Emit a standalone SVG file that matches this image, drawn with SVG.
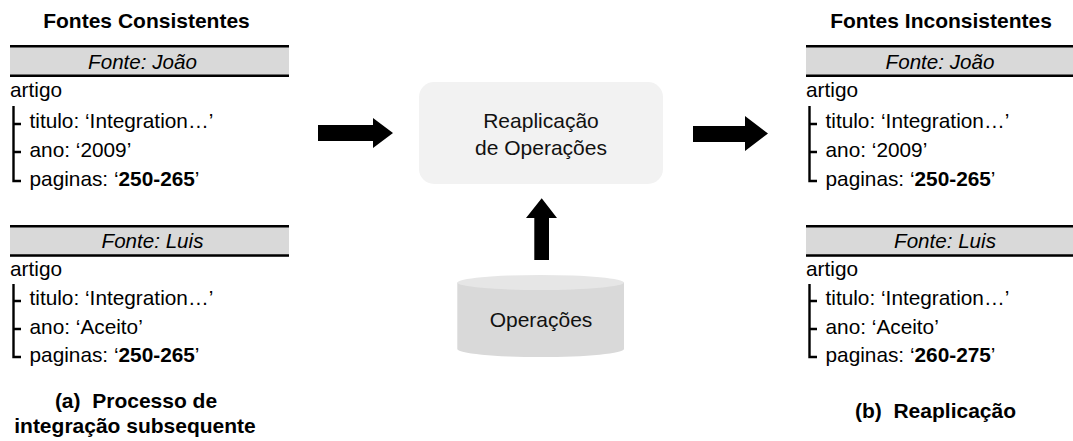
<svg xmlns="http://www.w3.org/2000/svg" width="1073" height="441" viewBox="0 0 1073 441">
  <style>
    text { font-family: "Liberation Sans", Arial, sans-serif; fill: #000; }
    .title { font-size: 21px; font-weight: bold; text-anchor: middle; }
    .caption { font-size: 21px; font-weight: bold; text-anchor: middle; white-space: pre; }
    .src { font-size: 20.6px; font-style: italic; text-anchor: middle; }
    .body { font-size: 20.8px; }
    .val { font-weight: bold; }
    .bar { fill: #d9d9d9; }
    .rule { stroke: #000; stroke-width: 2.6; fill: none; }
    .tree { stroke: #000; stroke-width: 2.4; fill: none; }
    .proc { fill: #f2f2f2; }
    .proc-text { font-size: 21px; text-anchor: middle; fill: #111; }
    .cyl-body { fill: #d9d9d9; }
    .cyl-top { fill: #e6e6e6; }
    .arrow { fill: #000; }
  </style>

  <!-- column titles -->
  <text class="title" x="146.5" y="28">Fontes Consistentes</text>
  <text class="title" x="941" y="28">Fontes Inconsistentes</text>

  <!-- left column: source João -->
  <g id="left-joao">
    <rect class="bar" x="10" y="45" width="279" height="32"/>
    <line class="rule" x1="10" y1="46.3" x2="289" y2="46.3"/>
    <line class="rule" x1="10" y1="75.7" x2="289" y2="75.7"/>
    <text class="src" x="142.5" y="68.5">Fonte: João</text>
    <text class="body" x="10" y="97">artigo</text>
    <path class="tree" d="M13.5,106 V181 H21 M13.5,124 H21 M13.5,152 H21"/>
    <text class="body" x="29.5" y="128">titulo: ‘Integration…’</text>
    <text class="body" x="29.5" y="157">ano: ‘2009’</text>
    <text class="body" x="29.5" y="186">paginas: ‘<tspan class="val">250-265</tspan>’</text>
  </g>

  <!-- left column: source Luis -->
  <g id="left-luis">
    <rect class="bar" x="10" y="225" width="279" height="32"/>
    <line class="rule" x1="10" y1="226.3" x2="289" y2="226.3"/>
    <line class="rule" x1="10" y1="255.5" x2="289" y2="255.5"/>
    <text class="src" x="152.5" y="248">Fonte: Luis</text>
    <text class="body" x="10" y="275.5">artigo</text>
    <path class="tree" d="M13.5,284 V357 H21 M13.5,301 H21 M13.5,329 H21"/>
    <text class="body" x="29.5" y="305">titulo: ‘Integration…’</text>
    <text class="body" x="29.5" y="333.5">ano: ‘Aceito’</text>
    <text class="body" x="29.5" y="362">paginas: ‘<tspan class="val">250-265</tspan>’</text>
  </g>

  <!-- right column: source João -->
  <g id="right-joao">
    <rect class="bar" x="806" y="45" width="267" height="32"/>
    <line class="rule" x1="806" y1="46.3" x2="1073" y2="46.3"/>
    <line class="rule" x1="806" y1="75.7" x2="1073" y2="75.7"/>
    <text class="src" x="940" y="68.5">Fonte: João</text>
    <text class="body" x="806" y="97">artigo</text>
    <path class="tree" d="M809.5,106 V181 H817 M809.5,124 H817 M809.5,152 H817"/>
    <text class="body" x="825.5" y="128">titulo: ‘Integration…’</text>
    <text class="body" x="825.5" y="157">ano: ‘2009’</text>
    <text class="body" x="825.5" y="186">paginas: ‘<tspan class="val">250-265</tspan>’</text>
  </g>

  <!-- right column: source Luis -->
  <g id="right-luis">
    <rect class="bar" x="806" y="225" width="267" height="32"/>
    <line class="rule" x1="806" y1="226.3" x2="1073" y2="226.3"/>
    <line class="rule" x1="806" y1="255.5" x2="1073" y2="255.5"/>
    <text class="src" x="945" y="248">Fonte: Luis</text>
    <text class="body" x="806" y="275.5">artigo</text>
    <path class="tree" d="M809.5,284 V357 H817 M809.5,301 H817 M809.5,329 H817"/>
    <text class="body" x="825.5" y="305">titulo: ‘Integration…’</text>
    <text class="body" x="825.5" y="333.5">ano: ‘Aceito’</text>
    <text class="body" x="825.5" y="362">paginas: ‘<tspan class="val">260-275</tspan>’</text>
  </g>

  <!-- process box -->
  <g id="reaplicacao">
    <rect class="proc" x="419" y="82" width="244" height="102" rx="15" ry="15"/>
    <text class="proc-text" x="541" y="128.3">Reaplicação</text>
    <text class="proc-text" x="541" y="155">de Operações</text>
  </g>

  <!-- operations store -->
  <g id="operacoes">
    <path class="cyl-body" d="M457.3,282.5 V349 A83.35,8 0 0 0 624,349 V282.5 Z"/>
    <ellipse class="cyl-top" cx="540.65" cy="282.5" rx="83.35" ry="7.5"/>
    <text class="proc-text" x="541" y="327">Operações</text>
  </g>

  <!-- block arrows -->
  <g id="connectors">
    <polygon class="arrow" points="318,125 373,125 373,118 393,133 373,148 373,141 318,141"/>
    <polygon class="arrow" points="693,126 745,126 745,116 768,133.5 745,151 745,142 693,142"/>
    <polygon class="arrow" points="534.3,260 534.3,218 526,218 541.7,198.3 557,218 549,218 549,260"/>
  </g>

  <!-- sub-figure captions -->
  <g id="captions">
    <text class="caption" x="136" y="408">(a)  Processo de</text>
    <text class="caption" x="135" y="433">integração subsequente</text>
    <text class="caption" x="935.5" y="418">(b)  Reaplicação</text>
  </g>
</svg>
